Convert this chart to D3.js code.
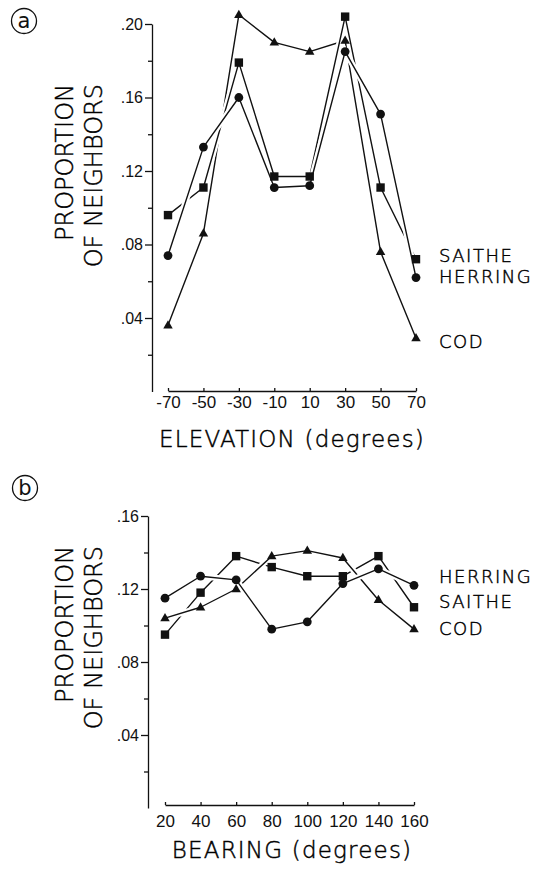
<!DOCTYPE html>
<html>
<head>
<meta charset="utf-8">
<script src="https://cdn.jsdelivr.net/npm/d3@7/dist/d3.min.js"></script>
<style>
  html, body { margin: 0; padding: 0; background: #fff; }
  svg { display: block; }
  .tick text { fill: #111; }
</style>
</head>
<body>
<svg id="chart" width="541" height="872"></svg>
<script>
// ---------- DATA ----------
const elevation = [-70, -50, -30, -10, 10, 30, 50, 70];
const elevCod     = [0.036, 0.086, 0.205, 0.190, 0.185, 0.191, 0.076, 0.029];
const elevSaithe  = [0.096, 0.111, 0.179, 0.117, 0.117, 0.204, 0.111, 0.072];
const elevHerring = [0.074, 0.133, 0.160, 0.111, 0.112, 0.185, 0.151, 0.062];

const bearing = [20, 40, 60, 80, 100, 120, 140, 160];
const bearHerring = [0.115, 0.127, 0.125, 0.098, 0.102, 0.123, 0.131, 0.122];
const bearSaithe  = [0.095, 0.118, 0.138, 0.132, 0.127, 0.127, 0.138, 0.110];
const bearCod     = [0.104, 0.110, 0.120, 0.138, 0.141, 0.137, 0.114, 0.098];

const yMajorA = [0.04, 0.08, 0.12, 0.16, 0.20];
const yMinorA = [0.02, 0.06, 0.10, 0.14, 0.18];
const yMajorB = [0.04, 0.08, 0.12, 0.16];
const yMinorB = [0.02, 0.06, 0.10, 0.14];

const legendA = ["SAITHE", "HERRING", "COD"];
const legendB = ["HERRING", "SAITHE", "COD"];

// ---------- DRAW ----------
const svg = d3.select("#chart");
const titleFont = "'DejaVu Sans', 'Noto Sans', sans-serif";
const numFont = "'Liberation Sans Narrow', 'Liberation Sans', Arial, sans-serif";
const fmt = v => d3.format(".2f")(v).replace(/^0/, "");
const xFmt = v => (v < 0 ? "-" : "") + Math.abs(v);

function marker(g, type, cx, cy) {
  if (type === "circle") {
    g.append("circle").attr("cx", cx).attr("cy", cy).attr("r", 4.4).attr("fill", "#111");
  } else if (type === "square") {
    g.append("rect").attr("x", cx - 4.2).attr("y", cy - 4.2).attr("width", 8.4).attr("height", 8.4).attr("fill", "#111");
  } else {
    const s = 9.5, h = s * 0.87;
    g.append("path")
      .attr("d", `M${cx},${cy - h * 0.62} L${cx + s / 2},${cy + h * 0.38} L${cx - s / 2},${cy + h * 0.38} Z`)
      .attr("fill", "#111");
  }
}

function lightText(sel) {
  return sel.attr("font-family", titleFont).attr("font-weight", 200)
    .attr("fill", "#000").attr("stroke", "#000").attr("stroke-width", 0.45);
}

function panel(cfg) {
  const g = svg.append("g");
  const x = d3.scaleLinear().domain(cfg.xDomain).range(cfg.xRange);
  const y = d3.scaleLinear().domain(cfg.yDomain).range(cfg.yRange);

  // y axis major
  const yAxis = g.append("g").attr("transform", `translate(${cfg.yAxisX},0)`)
    .call(d3.axisLeft(y).tickValues(cfg.yMajor).tickSize(7).tickSizeOuter(0).tickPadding(2).tickFormat(fmt));
  yAxis.selectAll("text").attr("font-family", numFont).attr("font-size", 16);
  yAxis.selectAll("line, path").attr("stroke", "#111").attr("stroke-width", 1.3);
  const yMinor = g.append("g").attr("transform", `translate(${cfg.yAxisX},0)`)
    .call(d3.axisLeft(y).tickValues(cfg.yMinor).tickSize(4).tickFormat(""));
  yMinor.select(".domain").remove();
  yMinor.selectAll("line").attr("stroke", "#111").attr("stroke-width", 1.3);

  // x axis
  const xAxis = g.append("g").attr("transform", `translate(0,${cfg.xAxisY})`)
    .call(d3.axisBottom(x).tickValues(cfg.xValues).tickSizeInner(-3).tickSizeOuter(0)
      .tickPadding(cfg.xPad).tickFormat(xFmt));
  xAxis.selectAll("text").attr("font-family", "'Liberation Sans', Arial, sans-serif").attr("font-size", 17);
  xAxis.selectAll("line, path").attr("stroke", "#111").attr("stroke-width", 1.3);

  // lines, drawn bottom to top with white halos producing the gaps at crossings
  const line = d3.line().x((d, i) => x(cfg.xValues[i])).y(d => y(d));
  cfg.series.forEach(s => {
    g.append("path").attr("d", line(s.values)).attr("fill", "none")
      .attr("stroke", "#fff").attr("stroke-width", 6);
    g.append("path").attr("d", line(s.values)).attr("fill", "none")
      .attr("stroke", "#111").attr("stroke-width", 1.4).attr("stroke-linejoin", "round");
  });
  cfg.series.forEach(s => {
    s.values.forEach((v, i) => marker(g, s.marker, x(cfg.xValues[i]), y(v)));
  });

  // legend labels
  cfg.legend.forEach((t, i) => {
    lightText(g.append("text").attr("x", 439).attr("y", cfg.legendY[i]).text(t)
      .attr("font-size", 18).attr("letter-spacing", 1.5));
  });

  // y title
  const yt = lightText(g.append("text").attr("transform", `translate(0,${cfg.yTitleTop}) rotate(-90)`)
    .attr("text-anchor", "end").attr("font-size", 24));
  yt.append("tspan").attr("x", 0).attr("y", 73).text("PROPORTION");
  yt.append("tspan").attr("x", 0).attr("y", 102).text("OF NEIGHBORS");

  // x title
  lightText(g.append("text").attr("x", 292).attr("y", cfg.xTitleY).attr("text-anchor", "middle")
    .attr("font-size", 23).attr("letter-spacing", 1.2).text(cfg.xTitle));

  // panel letter
  g.append("circle").attr("cx", cfg.letterPos[0]).attr("cy", cfg.letterPos[1]).attr("r", 12.5)
    .attr("fill", "none").attr("stroke", "#111").attr("stroke-width", 1.3);
  g.append("text").attr("x", cfg.letterPos[0]).attr("y", cfg.letterPos[1] + 7).attr("text-anchor", "middle")
    .attr("font-family", titleFont).attr("font-size", 21).attr("fill", "#111").text(cfg.letter);
}

panel({
  xDomain: [-70, 70], xRange: [168, 416], xValues: elevation, xAxisY: 391, xPad: 5,
  yDomain: [0, 0.20], yRange: [391.5, 24], yAxisX: 152, yMajor: yMajorA, yMinor: yMinorA,
  series: [
    { values: elevCod, marker: "triangle" },
    { values: elevSaithe, marker: "square" },
    { values: elevHerring, marker: "circle" }
  ],
  legend: legendA, legendY: [262, 283, 348],
  yTitleTop: 84, xTitle: "ELEVATION (degrees)", xTitleY: 447,
  letter: "a", letterPos: [24, 21]
});

panel({
  xDomain: [20, 160], xRange: [165, 414], xValues: bearing, xAxisY: 805, xPad: 10,
  yDomain: [0, 0.16], yRange: [808, 516], yAxisX: 148, yMajor: yMajorB, yMinor: yMinorB,
  series: [
    { values: bearSaithe, marker: "square" },
    { values: bearCod, marker: "triangle" },
    { values: bearHerring, marker: "circle" }
  ],
  legend: legendB, legendY: [583, 608, 635],
  yTitleTop: 546, xTitle: "BEARING (degrees)", xTitleY: 858,
  letter: "b", letterPos: [25, 488]
});
</script>
</body>
</html>
